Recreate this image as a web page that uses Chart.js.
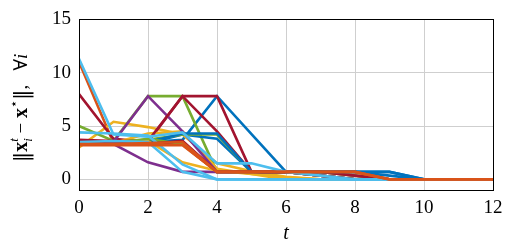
<!DOCTYPE html>
<html>
<head>
<meta charset="utf-8">
<script src="https://cdn.jsdelivr.net/npm/chart.js@4.4.1/dist/chart.umd.min.js"></script>
<style>
  html, body { margin: 0; padding: 0; background: #fff; }
  #wrap { width: 511px; height: 249px; }
</style>
</head>
<body>
<div id="wrap"><canvas id="myChart" width="511" height="249"></canvas></div>
<script>
// iteration index
const t = [0, 1, 2, 3, 4, 5, 6, 7, 8, 9, 10, 11, 12];

// distance of each agent to the optimum
const blueA   = [3.5, 3.5, 3.5, 3.7, 7.8, 4.25, 0.7, 0.7, 0.7, 0.7, 0, 0, 0];
const orangeA = [11.0, 3.4, 3.3, 3.3, 0.7, 0.7, 0.7, 0.7, 0.7, 0, 0, 0, 0];
const yellowA = [3.0, 5.4, 4.9, 4.2, 1.5, 0.75, 0.25, 0, 0, 0, 0, 0, 0];
const purpleA = [3.5, 3.3, 1.6, 0.7, 0.7, 0.7, 0.7, 0.35, 0, 0, 0, 0, 0];
const greenA  = [5.0, 3.6, 7.8, 7.8, 0.7, 0.7, 0.7, 0.35, 0, 0, 0, 0, 0];
const cyanA   = [11.3, 4.2, 4.0, 4.4, 1.5, 1.5, 0.7, 0.35, 0, 0, 0, 0, 0];
const redA    = [8.0, 3.8, 3.5, 7.8, 7.8, 0.7, 0.7, 0.7, 0.35, 0, 0, 0, 0];

const blueB   = [3.6, 3.4, 3.4, 4.2, 3.8, 0.7, 0.7, 0.7, 0.7, 0.7, 0, 0, 0];
const orangeB = [3.2, 3.2, 3.2, 3.2, 0.7, 0.7, 0.7, 0.7, 0.7, 0, 0, 0, 0];
const yellowB = [3.3, 3.4, 4.3, 4.5, 1.0, 0.5, 0.2, 0, 0, 0, 0, 0, 0];
const purpleB = [3.4, 3.5, 7.8, 4.5, 0.7, 0.7, 0.7, 0.35, 0, 0, 0, 0, 0];
const greenB  = [3.5, 3.5, 3.7, 4.2, 4.2, 0.7, 0.7, 0.7, 0.35, 0, 0, 0, 0];
const cyanB   = [4.4, 4.3, 4.1, 1.4, 0, 0, 0, 0, 0, 0, 0, 0, 0];
const redB    = [3.7, 3.6, 3.6, 7.8, 4.5, 0.7, 0.7, 0.7, 0.35, 0, 0, 0, 0];

const blueC   = [3.4, 3.4, 3.5, 4.3, 4.3, 0.7, 0.7, 0.7, 0.7, 0.35, 0, 0, 0];
const orangeC = [3.3, 3.3, 3.4, 3.5, 0.7, 0.7, 0.7, 0.7, 0.7, 0, 0, 0, 0];
const yellowC = [3.4, 3.5, 3.6, 1.6, 0.8, 0.5, 0, 0, 0, 0, 0, 0, 0];
const purpleC = [3.3, 3.4, 3.3, 3.5, 0.7, 0.7, 0.7, 0.35, 0, 0, 0, 0, 0];
const greenC  = [3.3, 3.4, 3.8, 3.3, 0.7, 0.7, 0.7, 0.35, 0, 0, 0, 0, 0];
const cyanC   = [3.5, 3.6, 3.5, 0.7, 0, 0, 0, 0, 0, 0, 0, 0, 0];
const redC    = [3.6, 3.5, 3.3, 3.6, 0.7, 0.7, 0.7, 0.35, 0, 0, 0, 0, 0];

const series = [
  blueA, orangeA, yellowA, purpleA, greenA, cyanA, redA,
  blueB, orangeB, yellowB, purpleB, greenB, cyanB, redB,
  blueC, orangeC, yellowC, purpleC, greenC, cyanC, redC
];
const colorHex = ['#0072BD', '#D95319', '#EDB120', '#7E2F8E', '#77AC30', '#4DBEEE', '#A2142F'];

const yTicks = [0, 5, 10, 15];
const xTicks = [0, 2, 4, 6, 8, 10, 12];

const serif = '"Liberation Serif", "DejaVu Serif", serif';

const datasets = series.map(function (vals, i) {
  const col = colorHex[i % colorHex.length];
  // orange on top, light blue just under it, the rest later-on-top
  let ord = -i;
  if (col === '#D95319' && i > 1) ord = -200 - i;
  else if (col === '#4DBEEE') ord = -100 - i;
  return {
    data: vals.map(function (v, k) { return { x: t[k], y: v }; }),
    borderColor: col,
    borderWidth: 2.6,
    pointRadius: 0,
    fill: false,
    tension: 0,
    order: ord
  };
});

// axis labels and box, drawn on the canvas
const decor = {
  id: 'decor',
  afterDraw: function (chart) {
    const c = chart.ctx;
    const a = chart.chartArea;
    c.save();
    c.strokeStyle = '#000';
    c.lineWidth = 1;
    c.strokeRect(Math.round(a.left) + 0.5, Math.round(a.top) + 0.5,
      Math.round(a.right - a.left), Math.round(a.bottom - a.top));

    // x title
    c.fillStyle = '#000';
    c.font = 'italic 20px ' + serif;
    c.textAlign = 'center';
    c.textBaseline = 'alphabetic';
    c.fillText('t', (a.left + a.right) / 2, 239);

    // y title, pieces along a rotated baseline
    const bars = '21px "DejaVu Serif", serif';
    const big = '19px ' + serif;
    const bold = 'bold 20px ' + serif;
    const small = 'italic 13px ' + serif;
    const pieces = [
      { s: '\u2016', f: bars, dy: 1 },
      { s: 'x', f: bold, dy: 0 },
      { s: 't', f: small, dy: -9, sub: 'i' },
      { s: ' \u2212 ', f: big, dy: 0 },
      { s: 'x', f: bold, dy: 0 },
      { s: '\u22C6', f: '13px "DejaVu Sans", sans-serif', dy: -9 },
      { s: '\u2016', f: bars, dy: 1 },
      { s: ',', f: big, dy: 0 },
      { s: '   \u2200', f: big, dy: 0 },
      { s: 'i', f: 'italic 19px ' + serif, dy: 0 }
    ];
    let w = 0;
    pieces.forEach(function (p) { c.font = p.f; p.w = c.measureText(p.s).width; w += p.w; });
    c.translate(27, 108);
    c.rotate(-Math.PI / 2);
    c.textAlign = 'left';
    let x = -w / 2;
    pieces.forEach(function (p) {
      c.font = p.f;
      c.fillText(p.s, x, p.dy);
      if (p.sub) c.fillText(p.sub, x, 5);
      x += p.w;
    });
    c.restore();
  }
};

const ctx = document.getElementById('myChart').getContext('2d');
const myChart = new Chart(ctx, {
  type: 'line',
  data: { datasets: datasets },
  plugins: [decor],
  options: {
    responsive: false,
    maintainAspectRatio: false,
    animation: false,
    layout: { padding: { left: 0, top: 13, right: 18, bottom: 0 } },
    plugins: { legend: { display: false }, tooltip: { enabled: false } },
    scales: {
      x: {
        type: 'linear', min: 0, max: 12,
        afterFit: function (s) { s.height = 59; },
        afterBuildTicks: function (s) { s.ticks = xTicks.map(function (v) { return { value: v }; }); },
        grid: { color: '#cfcfcf', drawTicks: false },
        border: { color: '#000' },
        ticks: { color: '#000', padding: 7, maxRotation: 0, font: { family: serif, size: 19 } }
      },
      y: {
        min: -1, max: 15,
        afterFit: function (s) { s.width = 79; },
        afterBuildTicks: function (s) { s.ticks = yTicks.map(function (v) { return { value: v }; }); },
        grid: { color: '#cfcfcf', drawTicks: false },
        border: { color: '#000' },
        ticks: { color: '#000', padding: 8, font: { family: serif, size: 19 } }
      }
    }
  }
});
</script>
</body>
</html>
